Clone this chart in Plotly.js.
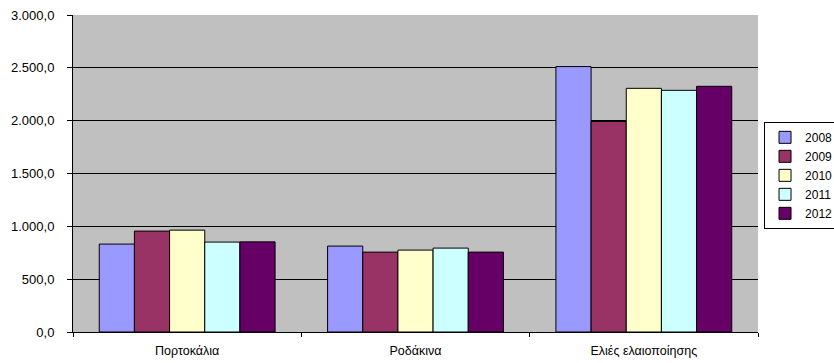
<!DOCTYPE html>
<html>
<head>
<meta charset="utf-8">
<script src="https://cdn.plot.ly/plotly-3.0.1.min.js"></script>
<style>html,body{margin:0;padding:0;background:#fff;}#chart{width:834px;height:363px;}</style>
</head>
<body>
<div id="chart"></div>
<script>
const categories = ["Πορτοκάλια", "Ροδάκινα", "Ελιές ελαιοποίησης"];
const years = ["2008", "2009", "2010", "2011", "2012"];
const values2008 = [832, 813, 2512];
const values2009 = [955, 756, 1992];
const values2010 = [964, 775, 2306];
const values2011 = [851, 794, 2287];
const values2012 = [853, 756, 2325];
const colors = ["#9999FF", "#993366", "#FFFFCC", "#CCFFFF", "#660066"];
const tickVals = [0, 500, 1000, 1500, 2000, 2500, 3000];

const series = [values2008, values2009, values2010, values2011, values2012];
const traces = series.map((vals, i) => ({
  type: "bar",
  name: years[i],
  x: categories,
  y: vals,
  marker: {color: colors[i], line: {color: "#000000", width: 1}},
  hoverinfo: "none"
}));

const layout = {
  width: 834,
  height: 363,
  margin: {l: 73, r: 76, t: 15, b: 31, autoexpand: false},
  paper_bgcolor: "#ffffff",
  plot_bgcolor: "#C0C0C0",
  barmode: "group",
  bargap: 0.23,
  bargroupgap: 0,
  separators: ",.",
  font: {family: "Arial, Liberation Sans, sans-serif", size: 12, color: "#000000"},
  xaxis: {
    showline: true, linecolor: "#000000", linewidth: 1,
    ticks: "outside", tickson: "boundaries", ticklen: 4, tickcolor: "#000000",
    showgrid: false, tickfont: {size: 12.5, color: "#000000"},
    ticklabelstandoff: 7, automargin: false
  },
  yaxis: {
    range: [0, 3000], tickvals: tickVals, tickformat: ",.1f",
    showline: true, linecolor: "#000000", linewidth: 1,
    ticks: "outside", ticklen: 5, tickcolor: "#000000",
    showgrid: true, gridcolor: "#000000", gridwidth: 1,
    zeroline: false, tickfont: {size: 13, color: "#000000"},
    ticklabelstandoff: 10, automargin: false
  },
  legend: {
    x: 1.0088, xanchor: "left", y: 0.663, yanchor: "top",
    bgcolor: "#ffffff", bordercolor: "#000000", borderwidth: 1,
    font: {size: 12, color: "#000000"}, traceorder: "normal"
  },
  showlegend: true
};

Plotly.newPlot("chart", traces, layout, {staticPlot: true});
</script>
</body>
</html>
